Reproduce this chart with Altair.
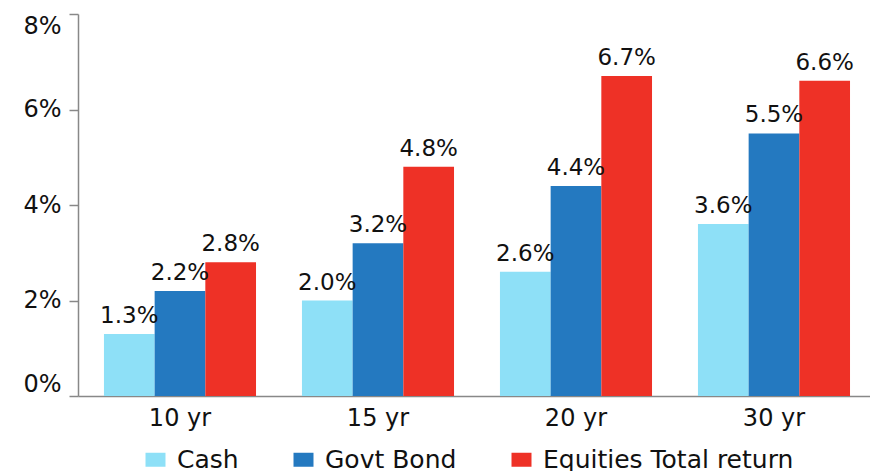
import altair as alt
import pandas as pd

horizons = ["10 yr", "15 yr", "20 yr", "30 yr"]
series = ["Cash", "Govt Bond", "Equities Total return"]
cash = [1.3, 2.0, 2.6, 3.6]
govt = [2.2, 3.2, 4.4, 5.5]
equities = [2.8, 4.8, 6.7, 6.6]
colors = ["#8EE0F7", "#2479C0", "#EE3126"]
y_ticks = [0, 2, 4, 6, 8]

rows = []
for s, vals in zip(series, [cash, govt, equities]):
    for h, v in zip(horizons, vals):
        rows.append({"horizon": h, "series": s, "value": v, "label": f"{v:.1f}%"})
df = pd.DataFrame(rows)

FONT = "DejaVu Sans"

x = alt.X("horizon:N", sort=horizons, title=None,
          scale=alt.Scale(paddingInner=0.232, paddingOuter=0.116, align=0.565),
          axis=alt.Axis(labelAngle=0, labelFontSize=24, labelColor="#111111",
                        labelFont=FONT, ticks=False, labelPadding=10,
                        domainColor="#888888", domainWidth=1.5))
xoff = alt.XOffset("series:N", sort=series, scale=alt.Scale(paddingInner=0, paddingOuter=0))
y = alt.Y("value:Q", title=None,
          scale=alt.Scale(domain=[0, 8], nice=False),
          axis=alt.Axis(values=y_ticks, labelExpr="datum.value + '%'",
                        labelFontSize=24, labelFont=FONT, labelColor="#111111",
                        labelFlush=True,
                        grid=False, tickSize=9, tickColor="#888888",
                        tickWidth=1.5, domainColor="#888888", domainWidth=1.5,
                        labelPadding=8))

bars = alt.Chart(df).mark_bar().encode(
    x=x, xOffset=xoff, y=y,
    color=alt.Color("series:N", sort=series,
                    scale=alt.Scale(domain=series, range=colors),
                    legend=alt.Legend(title=None, orient="none", direction="horizontal",
                                      legendX=65, legendY=433,
                                      symbolType="M-1,-0.7L1,-0.7L1,0.7L-1,0.7Z",
                                      symbolSize=400,
                                      symbolStrokeWidth=0, labelFontSize=25,
                                      labelFont=FONT, labelColor="#111111",
                                      labelOffset=9, columnPadding=52,
                                      labelLimit=500)),
)

labels = alt.Chart(df).mark_text(dy=-6, baseline="bottom", fontSize=23,
                                 font=FONT, color="#111111").encode(
    x=x, xOffset=xoff, y=y, text="label:N")

chart = (bars + labels).properties(
    width=792, height=382,
    autosize=alt.AutoSizeParams(type="none"),
    padding={"left": 70, "top": 6, "right": 0, "bottom": 75},
).configure(font=FONT).configure_view(stroke=None)

chart.save("out.html", embed_options={"renderer": "svg", "actions": False})
